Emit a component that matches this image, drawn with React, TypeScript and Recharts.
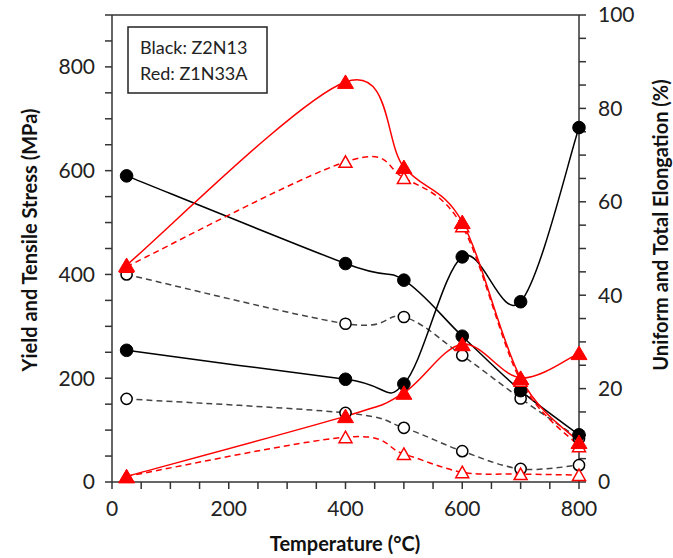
import React from 'react';
import { LineChart, Line, XAxis, YAxis, ReferenceLine } from 'recharts';

const temperatures = [25, 400, 500, 600, 700, 800];
// Black: Z2N13
const z2n13Tensile = [590, 421, 389, 281, 176, 91];
const z2n13Yield = [400, 305, 318, 244, 161, 84];
const z2n13TotalElong = [28.2, 22.0, 21.0, 48.2, 38.6, 75.9];
const z2n13UniformElong = [17.8, 14.8, 11.6, 6.6, 2.8, 3.6];
// Red: Z1N33A
const z1n33aTensile = [418, 771, 607, 501, 200, 77];
const z1n33aYield = [415, 617, 586, 493, 195, 69];
const z1n33aTotalElong = [1.2, 14.1, 19.1, 29.5, 22.3, 27.6];
const z1n33aUniformElong = [1.2, 9.6, 6.0, 2.1, 1.7, 1.5];

const xTicks = [0, 50, 100, 150, 200, 250, 300, 350, 400, 450, 500, 550, 600, 650, 700, 750, 800];
const xLabels = [0, 200, 400, 600, 800];
const leftTicks = [0, 50, 100, 150, 200, 250, 300, 350, 400, 450, 500, 550, 600, 650, 700, 750, 800, 850, 900];
const leftLabels = [0, 200, 400, 600, 800];
const rightTicks = [0, 5, 10, 15, 20, 25, 30, 35, 40, 45, 50, 55, 60, 65, 70, 75, 80, 85, 90, 95, 100];
const rightLabels = [0, 20, 40, 60, 80, 100];

const data = temperatures.map((t, i) => ({
  t,
  bT: z2n13Tensile[i],
  bY: z2n13Yield[i],
  bE: z2n13TotalElong[i],
  bU: z2n13UniformElong[i],
  rT: z1n33aTensile[i],
  rY: z1n33aYield[i],
  rE: z1n33aTotalElong[i],
  rU: z1n33aUniformElong[i],
}));

const FONT = 'Lato, "Open Sans", sans-serif';
const AXIS = '#333';
const RED = '#ff0000';

// Excel-like smoothed line (Catmull-Rom as cubic Bezier)
const excelSmooth: any = (context: any) => {
  let pts: number[][] = [];
  return {
    areaStart() {},
    areaEnd() {},
    lineStart() {
      pts = [];
    },
    point(x: number, y: number) {
      pts.push([+x, +y]);
    },
    lineEnd() {
      const n = pts.length;
      if (!n) return;
      context.moveTo(pts[0][0], pts[0][1]);
      for (let i = 0; i < n - 1; i++) {
        const p0 = pts[Math.max(i - 1, 0)];
        const p1 = pts[i];
        const p2 = pts[i + 1];
        const p3 = pts[Math.min(i + 2, n - 1)];
        context.bezierCurveTo(
          p1[0] + (p2[0] - p0[0]) / 6,
          p1[1] + (p2[1] - p0[1]) / 6,
          p2[0] - (p3[0] - p1[0]) / 6,
          p2[1] - (p3[1] - p1[1]) / 6,
          p2[0],
          p2[1]
        );
      }
    },
  };
};

const filledCircle = (props: any) => {
  const { cx, cy, index } = props;
  if (cx == null || cy == null) return <g key={`fc${index}`} />;
  return <circle key={`fc${index}`} cx={cx} cy={cy} r={6.3} fill="#000" stroke="#000" strokeWidth={1} />;
};
const openCircle = (props: any) => {
  const { cx, cy, index } = props;
  if (cx == null || cy == null) return <g key={`oc${index}`} />;
  return <circle key={`oc${index}`} cx={cx} cy={cy} r={5.6} fill="#fff" stroke="#000" strokeWidth={1.5} />;
};
const filledTri = (props: any) => {
  const { cx, cy, index } = props;
  if (cx == null || cy == null) return <g key={`ft${index}`} />;
  const pts = `${cx},${cy - 7} ${cx + 8},${cy + 6.5} ${cx - 8},${cy + 6.5}`;
  return <polygon key={`ft${index}`} points={pts} fill={RED} stroke={RED} strokeWidth={1} />;
};
const openTri = (props: any) => {
  const { cx, cy, index } = props;
  if (cx == null || cy == null) return <g key={`ot${index}`} />;
  const pts = `${cx},${cy - 6} ${cx + 6.5},${cy + 5.5} ${cx - 6.5},${cy + 5.5}`;
  return <polygon key={`ot${index}`} points={pts} fill="#fff" stroke={RED} strokeWidth={1.5} />;
};

const tickStyle = { fill: '#222', fontSize: 21, fontFamily: FONT };

export default function App() {
  return (
    <div style={{ position: 'absolute', left: 0, top: 0, width: 673, height: 558, background: '#fff' }}>
      <LineChart width={673} height={558} data={data} margin={{ top: 15, right: 34, bottom: 6, left: 52 }}>
        <XAxis
          dataKey="t"
          type="number"
          domain={[0, 800]}
          ticks={xTicks}
          interval={0}
          height={70}
          tickSize={7}
          tickMargin={12}
          axisLine={{ stroke: AXIS, strokeWidth: 1.5 }}
          tickLine={{ stroke: AXIS, strokeWidth: 1.5 }}
          tick={tickStyle}
          tickFormatter={(v: number) => (xLabels.includes(v) ? String(v) : '')}
        />
        <YAxis
          yAxisId="left"
          type="number"
          domain={[0, 900]}
          ticks={leftTicks}
          interval={0}
          width={60}
          tickSize={7}
          tickMargin={10}
          axisLine={{ stroke: AXIS, strokeWidth: 1.5 }}
          tickLine={{ stroke: AXIS, strokeWidth: 1.5 }}
          tick={tickStyle}
          tickFormatter={(v: number) => (leftLabels.includes(v) ? String(v) : '')}
        />
        <YAxis
          yAxisId="right"
          orientation="right"
          type="number"
          domain={[0, 100]}
          ticks={rightTicks}
          interval={0}
          width={60}
          tickSize={7}
          tickMargin={12}
          axisLine={{ stroke: AXIS, strokeWidth: 1.5 }}
          tickLine={{ stroke: AXIS, strokeWidth: 1.5 }}
          tick={tickStyle}
          tickFormatter={(v: number) => (rightLabels.includes(v) ? String(v) : '')}
        />
        <ReferenceLine yAxisId="left" y={900} stroke={AXIS} strokeWidth={1.5} />

        <Line yAxisId="left" dataKey="bY" type={excelSmooth} stroke="#444" strokeWidth={1.5} strokeDasharray="6 4" dot={openCircle} isAnimationActive={false} />
        <Line yAxisId="right" dataKey="bU" type={excelSmooth} stroke="#444" strokeWidth={1.5} strokeDasharray="6 4" dot={openCircle} isAnimationActive={false} />
        <Line yAxisId="left" dataKey="bT" type={excelSmooth} stroke="#000" strokeWidth={1.5} dot={filledCircle} isAnimationActive={false} />
        <Line yAxisId="right" dataKey="bE" type={excelSmooth} stroke="#000" strokeWidth={1.5} dot={filledCircle} isAnimationActive={false} />

        <Line yAxisId="left" dataKey="rY" type={excelSmooth} stroke={RED} strokeWidth={1.5} strokeDasharray="6 4" dot={openTri} isAnimationActive={false} />
        <Line yAxisId="right" dataKey="rU" type={excelSmooth} stroke={RED} strokeWidth={1.5} strokeDasharray="6 4" dot={openTri} isAnimationActive={false} />
        <Line yAxisId="left" dataKey="rT" type={excelSmooth} stroke={RED} strokeWidth={1.5} dot={filledTri} isAnimationActive={false} />
        <Line yAxisId="right" dataKey="rE" type={excelSmooth} stroke={RED} strokeWidth={1.5} dot={filledTri} isAnimationActive={false} />

        <g>
          <rect x={128} y={27} width={139} height={66} fill="#fff" stroke="#222" strokeWidth={1.5} />
          <text x={140} y={54} fontSize={18} fontFamily={FONT} fill="#222">Black: Z2N13</text>
          <text x={140} y={80} fontSize={18} fontFamily={FONT} fill="#222">Red: Z1N33A</text>
          <text x={345} y={551} textAnchor="middle" fontSize={20} fontWeight="bold" fontFamily={FONT} fill="#111">Temperature (°C)</text>
          <text x={0} y={0} transform="translate(37,240) rotate(-90)" textAnchor="middle" fontSize={20} fontWeight="bold" fontFamily={FONT} fill="#111">Yield and Tensile Stress (MPa)</text>
          <text x={0} y={0} transform="translate(668,225) rotate(-90)" textAnchor="middle" fontSize={20} fontWeight="bold" fontFamily={FONT} fill="#111">Uniform and Total Elongation (%)</text>
        </g>
      </LineChart>
    </div>
  );
}
